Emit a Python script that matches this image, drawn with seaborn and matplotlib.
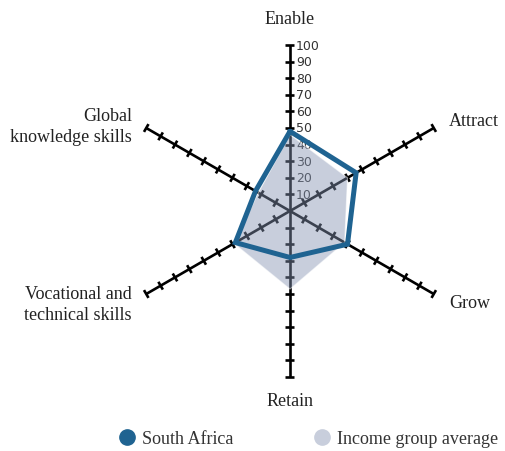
import numpy as np
import seaborn as sns
import matplotlib.pyplot as plt
from matplotlib.lines import Line2D

# data
axes_labels = ["Enable", "Attract", "Grow", "Retain",
               "Vocational and\ntechnical skills", "Global\nknowledge skills"]
angles_deg = [90, 30, -30, -90, 210, 150]
south_africa = [48, 46, 40, 28, 38, 24]
income_avg = [46, 40, 38, 47, 39, 22]
tick_values = [10, 20, 30, 40, 50, 60, 70, 80, 90, 100]

blue = "#1f6391"
grey = "#c8cedc"
fill_col = "#8593b2"

sns.set_style("white")
plt.rcParams["font.family"] = ["Liberation Serif", "DejaVu Serif"]

fig = plt.figure(figsize=(5.06, 4.52), dpi=100)
ax = fig.add_axes([0, 0, 1, 1])
ax.set_xlim(0, 506)
ax.set_ylim(452, 0)
ax.axis("off")

cx, cy, scale = 290, 212, 1.66
th = np.deg2rad(angles_deg)


def to_xy(vals):
    v = np.asarray(vals, dtype=float) * scale
    return cx + v * np.cos(th), cy - v * np.sin(th)


# spokes with cross ticks
for a in th:
    ux, uy = np.cos(a), -np.sin(a)
    ax.plot([cx, cx + 100 * scale * ux], [cy, cy + 100 * scale * uy],
            color="black", lw=1.9, solid_capstyle="butt", zorder=1)
    px, py = -uy, ux
    for t in tick_values:
        r = t * scale
        x0, y0 = cx + r * ux, cy + r * uy
        ax.plot([x0 - 4.5 * px, x0 + 4.5 * px], [y0 - 4.5 * py, y0 + 4.5 * py],
                color="black", lw=1.9, solid_capstyle="butt", zorder=1)

# tick labels on Enable axis
for t in tick_values:
    ax.text(cx + 6, cy - t * scale, str(t), fontsize=9, family="DejaVu Sans",
            color="#333333", ha="left", va="center", zorder=2)

# series
xi, yi = to_xy(income_avg)
ax.fill(xi, yi, color=fill_col, alpha=0.45, lw=0, zorder=3)
ax.plot(np.append(xi, xi[0]), np.append(yi, yi[0]), color="white", lw=0.8,
        alpha=0.5, zorder=3)
xs, ys = to_xy(south_africa)
ax.plot(np.append(xs, xs[0]), np.append(ys, ys[0]), color=blue, lw=3.6,
        solid_joinstyle="miter", zorder=4)

# axis labels
label_pos = [(290, 19, "center"), (449, 121, "left"), (449, 304, "left"),
             (290, 402, "center"), (132, 305, "right"), (132, 127, "right")]
for lab, (x, y, ha) in zip(axes_labels, label_pos):
    ax.text(x, y, lab, fontsize=13, color="#222222", ha=ha, va="center",
            linespacing=1.3, zorder=5)

# legend
handles = [Line2D([], [], marker="o", ls="", color=blue, markersize=11),
           Line2D([], [], marker="o", ls="", color=grey, markersize=11)]
ax.legend(handles, ["South Africa", "Income group average"], ncol=2,
          frameon=False, fontsize=13, loc="center left",
          bbox_to_anchor=(0.183, 0.027), handletextpad=-0.15,
          columnspacing=3.9, labelcolor="#333333")

fig.savefig("out.png", dpi=100)
